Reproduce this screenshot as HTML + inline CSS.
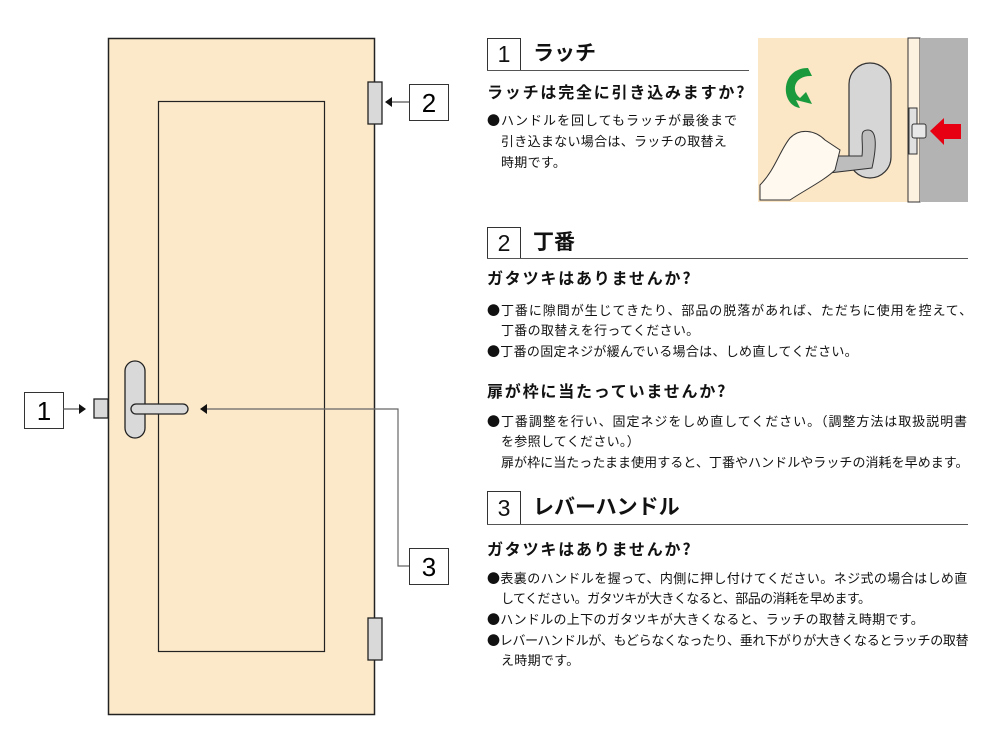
<!DOCTYPE html>
<html><head><meta charset="utf-8"><style>
body{margin:0;width:1000px;height:738px;background:#fff;position:relative;overflow:hidden;font-family:"Noto Sans CJK JP","Liberation Sans",sans-serif;color:#111}
.a{position:absolute;white-space:nowrap}
.t{font-size:13px;letter-spacing:0.3px}
.q{font-size:16px;font-weight:bold;letter-spacing:1.8px}
.h{font-size:21px;font-weight:bold}
.nb{position:absolute;border:1px solid #333;font-size:23px;text-align:center;box-sizing:border-box;font-family:"Liberation Sans",sans-serif}
.ul{position:absolute;height:1px;background:#555}
</style></head><body>
<svg class="a" style="left:0;top:0" width="1000" height="738">
<rect x="108.5" y="38.5" width="266" height="676" fill="#fce9c9" stroke="#222" stroke-width="1.5"/>
<rect x="158.5" y="101.5" width="166" height="550" fill="none" stroke="#222" stroke-width="1.2"/>
<rect x="368" y="82" width="14" height="42" fill="#d9d9d9" stroke="#222" stroke-width="1.3"/>
<rect x="368" y="618" width="14" height="42" fill="#d9d9d9" stroke="#222" stroke-width="1.3"/>
<rect x="94" y="399" width="14" height="19" fill="#d9d9d9" stroke="#222" stroke-width="1.3"/>
<rect x="125" y="361" width="20" height="77" rx="10" fill="#d9d9d9" stroke="#222" stroke-width="1.3"/>
<rect x="131" y="404" width="57" height="10" rx="5" fill="#d9d9d9" stroke="#222" stroke-width="1.3"/>
<rect x="24.5" y="392.5" width="39" height="36" fill="#fff" stroke="#333"/>
<text x="44" y="420" font-size="26" text-anchor="middle" font-family="Liberation Sans">1</text>
<line x1="63" y1="409" x2="80" y2="409" stroke="#555" stroke-width="1.3"/>
<polygon points="79,404 86,409 79,414" fill="#111"/>
<rect x="409.5" y="84.5" width="39" height="36" fill="#fff" stroke="#333"/>
<text x="429" y="112" font-size="26" text-anchor="middle" font-family="Liberation Sans">2</text>
<line x1="409" y1="102" x2="392" y2="102" stroke="#555" stroke-width="1.3"/>
<polygon points="392,97 385,102 392,107" fill="#111"/>
<rect x="409.5" y="548.5" width="39" height="36" fill="#fff" stroke="#333"/>
<text x="429" y="576" font-size="26" text-anchor="middle" font-family="Liberation Sans">3</text>
<polyline points="409,566 398,566 398,409 206,409" fill="none" stroke="#666" stroke-width="1.2"/>
<polygon points="207,404 200,409 207,414" fill="#111"/>
<rect x="758" y="38" width="150" height="164" fill="#fbe6c6"/>
<rect x="908" y="38" width="12" height="164" fill="#fdf2e0" stroke="#333" stroke-width="1"/>
<rect x="920" y="38" width="48" height="164" fill="#b3b3b3"/>
<rect x="909" y="108" width="8" height="46" fill="#e0e0e0" stroke="#333"/>
<rect x="912" y="124" width="14" height="14" rx="2" fill="#e8e8e8" stroke="#333"/>
<polygon points="930,131 944,118 944,124 961,124 961,139 944,139 944,145" fill="#e60012"/>
<rect x="849" y="63" width="42" height="115" rx="21" fill="#d6d6d6" stroke="#333" stroke-width="1.2"/>
<path d="M822 156 L862 156 C864 140 858 130 868 130 C878 130 876 150 872 168 L820 174 Z" fill="#bdbdbd" stroke="#333"/>
<path d="M760 185 C775 170 780 150 790 138 C800 128 815 130 825 140 L840 150 L835 170 C825 180 805 190 790 200 L760 200 Z" fill="#fff9ef" stroke="#333"/>
<path d="M808 68 C780 68 780 105 800 108 L796 100 L812 104 L806 92 L800 98 C790 90 795 75 812 76 Z" fill="#1a9a3c"/>
</svg>
<div class="nb" style="left:487px;top:38px;width:34px;height:33px;border-bottom:none;line-height:31px">1</div>
<div class="a h" style="left:533px;top:37px">ラッチ</div>
<div class="ul" style="left:487px;top:70px;width:262px"></div>
<div class="a q" style="left:487px;top:79px">ラッチは完全に引き込みますか?</div>
<div class="a t" style="left:487px;top:110px;letter-spacing:1px">●ハンドルを回してもラッチが最後まで</div>
<div class="a t" style="left:501px;top:131px">引き込まない場合は、ラッチの取替え</div>
<div class="a t" style="left:501px;top:152px">時期です。</div>
<div class="nb" style="left:487px;top:227px;width:34px;height:32px;border-bottom:none;line-height:30px">2</div>
<div class="a h" style="left:533px;top:226px">丁番</div>
<div class="ul" style="left:487px;top:258px;width:481px"></div>
<div class="a q" style="left:487px;top:265px">ガタツキはありませんか?</div>
<div class="a t" style="left:487px;top:300px;letter-spacing:0.95px">●丁番に隙間が生じてきたり、部品の脱落があれば、ただちに使用を控えて、</div>
<div class="a t" style="left:501px;top:320px">丁番の取替えを行ってください。</div>
<div class="a t" style="left:487px;top:341px">●丁番の固定ネジが緩んでいる場合は、しめ直してください。</div>
<div class="a q" style="left:487px;top:378px">扉が枠に当たっていませんか?</div>
<div class="a t" style="left:487px;top:411px;letter-spacing:0.95px">●丁番調整を行い、固定ネジをしめ直してください。（調整方法は取扱説明書</div>
<div class="a t" style="left:501px;top:431px">を参照してください。）</div>
<div class="a t" style="left:501px;top:452px;letter-spacing:0.05px">扉が枠に当たったまま使用すると、丁番やハンドルやラッチの消耗を早めます。</div>
<div class="nb" style="left:487px;top:491px;width:34px;height:34px;border-bottom:none;line-height:32px">3</div>
<div class="a h" style="left:533px;top:491px">レバーハンドル</div>
<div class="ul" style="left:487px;top:524px;width:481px"></div>
<div class="a q" style="left:487px;top:536px">ガタツキはありませんか?</div>
<div class="a t" style="left:487px;top:568px;letter-spacing:0.4px">●表裏のハンドルを握って、内側に押し付けてください。ネジ式の場合はしめ直</div>
<div class="a t" style="left:501px;top:588px;letter-spacing:-0.6px">してください。ガタツキが大きくなると、部品の消耗を早めます。</div>
<div class="a t" style="left:487px;top:609px">●ハンドルの上下のガタツキが大きくなると、ラッチの取替え時期です。</div>
<div class="a t" style="left:487px;top:630px;letter-spacing:-0.3px">●レバーハンドルが、もどらなくなったり、垂れ下がりが大きくなるとラッチの取替</div>
<div class="a t" style="left:501px;top:650px">え時期です。</div>
</body></html>
